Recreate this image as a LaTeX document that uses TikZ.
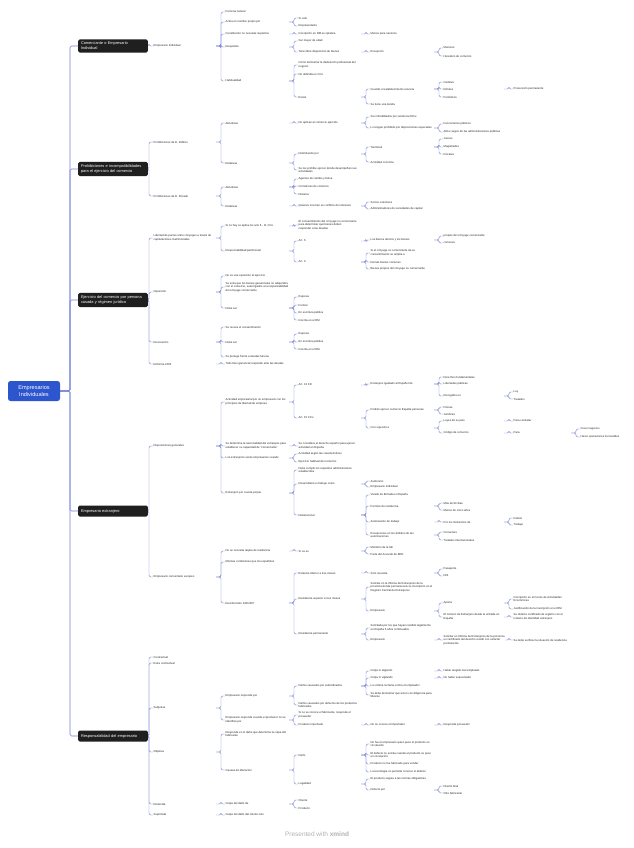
\documentclass[tikz,border=0pt]{standalone}
\usepackage{fontspec}
\setmainfont{Liberation Sans}
\usetikzlibrary{backgrounds}
\definecolor{lnc}{RGB}{118,128,214}
\definecolor{rootc}{RGB}{45,85,205}
\tikzset{
 t/.style={anchor=west, inner sep=0.5pt, fill=white, font=\fontsize{2.8}{3.6}\selectfont, align=left, text=black!85},
 mainbox/.style={anchor=west, fill=black!88, text=white, rounded corners=1.5pt, font=\fontsize{3.9}{4.8}\selectfont, align=left, text width=64pt, inner sep=2.8pt, minimum height=11pt},
 rootbox/.style={fill=rootc, text=white, rounded corners=2.5pt, font=\fontsize{5.6}{6.6}\selectfont, align=center, minimum width=52pt, minimum height=20pt, inner sep=1pt},
 ln/.style={draw=lnc, line width=0.45pt, rounded corners=1.5pt}
}
\newcommand\mk[4]{\node[t] (#1) at (#2,#3) {#4};}
\newcommand\lnk[2]{\foreach \kid in {#2}{\draw[ln] ([xshift=-9pt]#1.east -| \kid.west) -- ([xshift=-4pt]#1.east -| \kid.west) |- (\kid.west);}}
\begin{document}
\begin{tikzpicture}[x=1pt,y=-1pt]
\useasboundingbox (0,0) rectangle (633,848);
% root and main
\node[rootbox] (R) at (34,391) {Empresarios\\Individuales};
\node[mainbox] (m1) at (78,46) {Comerciante o Empresario\\Individual};
\node[mainbox] (m2) at (78,169) {Prohibiciones e incompatibilidades\\para el ejercicio del comercio};
\node[mainbox] (m3) at (78,300) {Ejercicio del comercio por persona\\casada y régimen jurídico};
\node[mainbox] (m4) at (78,511) {Empresario extranjero};
\node[mainbox] (m5) at (78,736) {Responsabilidad del empresario};
% section 1
\mk{b1}{153}{46}{Empresario Individual}
\mk{c1}{225}{12}{Persona natural}
\mk{c2}{225}{22}{Actúa en nombre propio por}
\mk{d1}{298}{18}{Sí solo}
\mk{d2}{298}{26}{Representante}
\mk{c3}{225}{34}{Constitución no necesita requisitos}
\mk{d3}{298}{34}{Inscripción en RM es optativa}
\mk{e1}{370}{34}{Menos para navieros}
\mk{c4}{225}{47}{Requisitos}
\mk{d4}{298}{41}{Ser mayor de edad}
\mk{d5}{298}{52}{Tener libre disposición de bienes}
\mk{e2}{370}{52}{Excepción}
\mk{f1}{443}{48}{Menores}
\mk{f2}{443}{56}{Heredero de comercio}
\mk{c5}{225}{81}{Habitualidad}
\mk{d6}{298}{65}{Cómo demostrar la dedicación profesional del\\negocio}
\mk{d7}{298}{74}{No definida en CCo}
\mk{d8}{298}{97}{Existe}
\mk{e3}{370}{89}{Cuando el establecimiento anuncia}
\mk{f3}{443}{82}{Carteles}
\mk{f4}{443}{89}{Rótulos}
\mk{g1}{513}{89}{Presunción permanente}
\mk{f5}{443}{97}{Periódicos}
\mk{e4}{370}{104}{Se tiene una tienda}
% section 2
\mk{b2}{153}{142}{Prohibiciones de D. Público}
\mk{c6}{225}{123}{Absolutas}
\mk{d9}{298}{123}{No aplican al comercio ejercido}
\mk{e5}{370}{117}{Son inhabilitados por sentencia firme}
\mk{e6}{370}{128}{Lo tengan prohibido por disposiciones especiales}
\mk{f6}{443}{124}{Funcionarios públicos}
\mk{f7}{443}{132}{Altos cargos de las administraciones públicas}
\mk{c7}{225}{163}{Relativas}
\mk{d10}{298}{154}{Delimitación por}
\mk{e7}{370}{147}{Territorial}
\mk{f8}{443}{139}{Jueces}
\mk{f9}{443}{147}{Magistrados}
\mk{f10}{443}{154}{Fiscales}
\mk{e8}{370}{162}{Actividad concreta}
\mk{d11}{298}{170}{Se les prohíbe ejercer donde desempeñan sus\\actividades}
\mk{b3}{153}{196}{Prohibiciones de D. Privado}
\mk{c8}{225}{187}{Absolutas}
\mk{d12}{298}{179}{Agentes de cambio y bolsa}
\mk{d13}{298}{186}{Corredores de comercio}
\mk{d14}{298}{194}{Notarios}
\mk{c9}{225}{206}{Relativas}
\mk{d15}{298}{206}{Quienes incurran en conflicto de intereses}
\mk{e9}{370}{202}{Socios colectivos}
\mk{e10}{370}{209}{Administradores de sociedades de capital}
% section 3
\mk{b4}{153}{238}{Libertad de pactos entre cónyuges a través de\\capitulaciones matrimoniales}
\mk{c10}{225}{226}{Si no hay se aplica los arts 6 - 11 CCo}
\mk{d16}{298}{225}{El consentimiento del cónyuge no comerciante\\para determinar qué bienes deben\\responder a las deudas}
\mk{c11}{225}{251}{Responsabilidad patrimonial}
\mk{d17}{298}{241}{Art. 6}
\mk{e11}{370}{240}{Los bienes afectos y los bienes}
\mk{f11}{443}{236}{propios del cónyuge comerciante}
\mk{f12}{443}{243}{comunes}
\mk{d18}{298}{262}{Art. 9}
\mk{e12}{370}{253}{Si el cónyuge no comerciante da su\\consentimiento se amplía a}
\mk{e13}{370}{262}{Demás bienes comunes}
\mk{e14}{370}{269}{Bienes propios del cónyuge no comerciante}
\mk{b5}{153}{292}{Oposición}
\mk{c12}{225}{276}{No es una oposición al ejercicio}
\mk{c13}{225}{287}{Se evita que los bienes gananciales no adquiridos\\con el comercio, sean ligados a la responsabilidad\\del cónyuge comerciante}
\mk{c14}{225}{308}{Debe ser}
\mk{d19}{298}{297}{Expresa}
\mk{d20}{298}{305}{Formal}
\mk{d21}{298}{313}{En escritura pública}
\mk{d22}{298}{320}{Inscrita en el RM}
\mk{b6}{153}{342}{Revocación}
\mk{c15}{225}{327}{Se revoca el consentimiento}
\mk{c16}{225}{342}{Debe ser}
\mk{d23}{298}{334}{Expresa}
\mk{d24}{298}{342}{En escritura pública}
\mk{d25}{298}{349}{Inscrita en el RM}
\mk{c17}{225}{357}{Se protege frente a deudas futuras}
\mk{b7}{153}{364}{Reforma 2005}
\mk{c18}{225}{364}{Todo bien ganancial responde ante las deudas}
% section 4
\mk{b8}{153}{446}{Disposiciones generales}
\mk{c19}{225}{402}{Actividad empresarial por un empresario con los\\principios de libertad de empresa}
\mk{d26}{298}{385}{Art. 13 CE}
\mk{e15}{370}{384}{Extranjero igualado al Español de}
\mk{f13}{443}{377}{Derechos fundamentales}
\mk{f14}{443}{384}{Libertades públicas}
\mk{f15}{443}{396}{Recogidos en}
\mk{g2}{513}{392}{Ley}
\mk{g3}{513}{399}{Tratados}
\mk{d27}{298}{418}{Art. 15 CCo}
\mk{e16}{370}{410}{Podrán ejercer comercio España personas}
\mk{f16}{443}{407}{Físicas}
\mk{f17}{443}{414}{Jurídicas}
\mk{e17}{370}{428}{Con sujeción a}
\mk{f18}{443}{421}{Leyes de su país}
\mk{g4}{513}{421}{Para contratar}
\mk{f19}{443}{433}{Código de comercio}
\mk{g5}{513}{433}{Para}
\mk{h1}{580}{429}{Crear negocios}
\mk{h2}{580}{437}{Hacer operaciones mercantiles}
\mk{c20}{225}{446}{Se determina la nacionalidad del extranjero para\\establecer su capacidad de “comerciante”}
\mk{d28}{298}{446}{Se considera el derecho español para ejercer\\actividad en España}
\mk{c21}{225}{458}{Los extranjeros serán empresarios cuando}
\mk{d29}{298}{454}{Actividad según las características}
\mk{d30}{298}{462}{Ejercicio habitual del comercio}
\mk{c22}{225}{493}{Extranjero por cuenta propia}
\mk{d31}{298}{470}{Debe cumplir los requisitos administrativos\\establecidos}
\mk{d32}{298}{484}{Desarrollará su trabajo como}
\mk{e18}{370}{481}{Autónomo}
\mk{e19}{370}{487}{Empresario Individual}
\mk{d33}{298}{515}{Deberá tener}
\mk{e20}{370}{495}{Visado de Entrada en España}
\mk{e21}{370}{506}{Permiso de residencia}
\mk{f20}{443}{503}{Más de 90 días}
\mk{f21}{443}{510}{Menos de cinco años}
\mk{e22}{370}{522}{Autorización de trabajo}
\mk{f22}{443}{522}{Por los ministerios de}
\mk{g6}{513}{518}{Interior}
\mk{g7}{513}{525}{Trabajo}
\mk{e23}{370}{535}{Excepciones en los ámbitos de las\\autorizaciones}
\mk{f23}{443}{532}{Convenios}
\mk{f24}{443}{540}{Tratados internacionales}
\mk{b9}{153}{577}{Empresario comunitario europeo}
\mk{c23}{225}{551}{No se necesita tarjeta de residencia}
\mk{d34}{298}{551}{Sí se es}
\mk{e24}{370}{547}{Miembro de la UE}
\mk{e25}{370}{554}{Parte del Acuerdo de EEE}
\mk{c24}{225}{562}{Mismas condiciones que los españoles}
\mk{c25}{225}{603}{Real Decreto 240/2007}
\mk{d35}{298}{573}{Estancia inferior a tres meses}
\mk{e26}{370}{573}{Solo necesita}
\mk{f25}{443}{569}{Pasaporte}
\mk{f26}{443}{576}{DNI}
\mk{d36}{298}{599}{Residencia superior a tres meses}
\mk{e27}{370}{587}{Solicitar en la Oficina de Extranjeros de la\\provincia donde permanecerá su inscripción en el\\Registro Central de Extranjeros}
\mk{e28}{370}{611}{Empresario}
\mk{f27}{443}{603}{Aporta}
\mk{g8}{513}{599}{Inscripción en el Censo de Actividades\\Económicas}
\mk{g9}{513}{609}{Justificación de la inscripción en el RM}
\mk{f28}{443}{617}{El número de Extranjero desde la entrada en\\España}
\mk{g10}{513}{617}{Se obtiene certificado de registro con el\\número de identidad extranjero}
\mk{d37}{298}{634}{Residencia permanente}
\mk{e29}{370}{628}{Solicitada por los que hayan residido legalmente\\en España 5 años continuados}
\mk{e30}{370}{640}{Empresario}
\mk{f29}{443}{640}{Solicitar en Oficina de Extranjeros de la provincia\\un certificado del derecho residir con carácter\\permanente}
\mk{g11}{513}{640}{Se debe verificar la situación de residencia}
% section 5
\mk{b10}{153}{657}{Contractual}
\mk{b11}{153}{663}{Extra contractual}
\mk{b12}{153}{708}{Subjetiva}
\mk{c26}{225}{696}{Empresario responde por}
\mk{d38}{298}{686}{Daños causados por subordinados}
\mk{e31}{370}{671}{Culpa in eligendo}
\mk{f30}{443}{671}{Haber elegido mal empleado}
\mk{e32}{370}{678}{Culpa in vigilando}
\mk{f31}{443}{678}{No haber supervisado}
\mk{e33}{370}{686}{La víctima reclama contra el empleador}
\mk{e34}{370}{695}{Se debe demostrar que actuó con diligencia para\\librarse}
\mk{d39}{298}{705}{Daños causados por defectos de los productos\\fabricados}
\mk{c27}{225}{720}{Empresario responde cuando el productor no se\\identifica por}
\mk{d40}{298}{715}{Si no se conoce el fabricante, responde el\\proveedor}
\mk{d41}{298}{725}{Producto importado}
\mk{e35}{370}{725}{No se conoce el importador}
\mk{f32}{443}{725}{Responde proveedor}
\mk{b13}{153}{752}{Objetiva}
\mk{c28}{225}{734}{Responde en el daño que determina la culpa del\\fabricante}
\mk{c29}{225}{770}{Causas de liberación}
\mk{d42}{298}{755}{Daño}
\mk{e36}{370}{744}{No fue el empresario quien puso el producto en\\circulación}
\mk{e37}{370}{755}{El defecto no existía cuando el producto se puso\\en circulación}
\mk{e38}{370}{764}{Producto no fue fabricado para vender}
\mk{e39}{370}{772}{La tecnología no permitía conocer el defecto}
\mk{d43}{298}{784}{Legalidad}
\mk{e40}{370}{779}{El producto seguía a las normas obligatorias}
\mk{e41}{370}{790}{Defecto por}
\mk{f33}{443}{786}{Diseño final}
\mk{f34}{443}{793}{Otro fabricante}
\mk{b14}{153}{804}{Reducida}
\mk{c30}{225}{804}{Culpa del daño de}
\mk{d44}{298}{800}{Cliente}
\mk{d45}{298}{808}{Producto}
\mk{b15}{153}{815}{Suprimida}
\mk{c31}{225}{815}{Culpa del daño del cliente solo}
% footer
\node[font=\fontsize{6.5}{7.5}\selectfont, text=black!30] (ft) at (317,834) {Presented with \textbf{xmind}};
% connectors
\begin{scope}[on background layer]
\fill[white] (0,0) rectangle (633,848);
\foreach \kid in {m1,m2,m3,m4,m5}{\draw[ln,line width=0.55pt] (R.east) -- ([xshift=-8pt]R.east -| \kid.west) |- (\kid.west);}
\lnk{m1}{b1}
\lnk{b1}{c1,c2,c3,c4,c5}
\lnk{c2}{d1,d2}
\lnk{c3}{d3}
\lnk{d3}{e1}
\lnk{c4}{d4,d5}
\lnk{d5}{e2}
\lnk{e2}{f1,f2}
\lnk{c5}{d6,d7,d8}
\lnk{d8}{e3,e4}
\lnk{e3}{f3,f4,f5}
\lnk{f4}{g1}
\lnk{m2}{b2,b3}
\lnk{b2}{c6,c7}
\lnk{c6}{d9}
\lnk{d9}{e5,e6}
\lnk{e6}{f6,f7}
\lnk{c7}{d10,d11}
\lnk{d10}{e7,e8}
\lnk{e7}{f8,f9,f10}
\lnk{b3}{c8,c9}
\lnk{c8}{d12,d13,d14}
\lnk{c9}{d15}
\lnk{d15}{e9,e10}
\lnk{m3}{b4,b5,b6,b7}
\lnk{b4}{c10,c11}
\lnk{c10}{d16}
\lnk{c11}{d17,d18}
\lnk{d17}{e11}
\lnk{e11}{f11,f12}
\lnk{d18}{e12,e13,e14}
\lnk{b5}{c12,c13,c14}
\lnk{c14}{d19,d20,d21,d22}
\lnk{b6}{c15,c16,c17}
\lnk{c16}{d23,d24,d25}
\lnk{b7}{c18}
\lnk{m4}{b8,b9}
\lnk{b8}{c19,c20,c21,c22}
\lnk{c19}{d26,d27}
\lnk{d26}{e15}
\lnk{e15}{f13,f14,f15}
\lnk{f15}{g2,g3}
\lnk{d27}{e16,e17}
\lnk{e16}{f16,f17}
\lnk{e17}{f18,f19}
\lnk{f18}{g4}
\lnk{f19}{g5}
\lnk{g5}{h1,h2}
\lnk{c20}{d28}
\lnk{c21}{d29,d30}
\lnk{c22}{d31,d32,d33}
\lnk{d32}{e18,e19}
\lnk{d33}{e20,e21,e22,e23}
\lnk{e21}{f20,f21}
\lnk{e22}{f22}
\lnk{f22}{g6,g7}
\lnk{e23}{f23,f24}
\lnk{b9}{c23,c24,c25}
\lnk{c23}{d34}
\lnk{d34}{e24,e25}
\lnk{c25}{d35,d36,d37}
\lnk{d35}{e26}
\lnk{e26}{f25,f26}
\lnk{d36}{e27,e28}
\lnk{e28}{f27,f28}
\lnk{f27}{g8,g9}
\lnk{f28}{g10}
\lnk{d37}{e29,e30}
\lnk{e30}{f29}
\lnk{f29}{g11}
\lnk{m5}{b10,b11,b12,b13,b14,b15}
\lnk{b12}{c26,c27}
\lnk{c26}{d38,d39}
\lnk{d38}{e31,e32,e33,e34}
\lnk{e31}{f30}
\lnk{e32}{f31}
\lnk{c27}{d40,d41}
\lnk{d41}{e35}
\lnk{e35}{f32}
\lnk{b13}{c28,c29}
\lnk{c29}{d42,d43}
\lnk{d42}{e36,e37,e38,e39}
\lnk{d43}{e40,e41}
\lnk{e41}{f33,f34}
\lnk{b14}{c30}
\lnk{c30}{d44,d45}
\lnk{b15}{c31}
\end{scope}
\end{tikzpicture}
\end{document}
